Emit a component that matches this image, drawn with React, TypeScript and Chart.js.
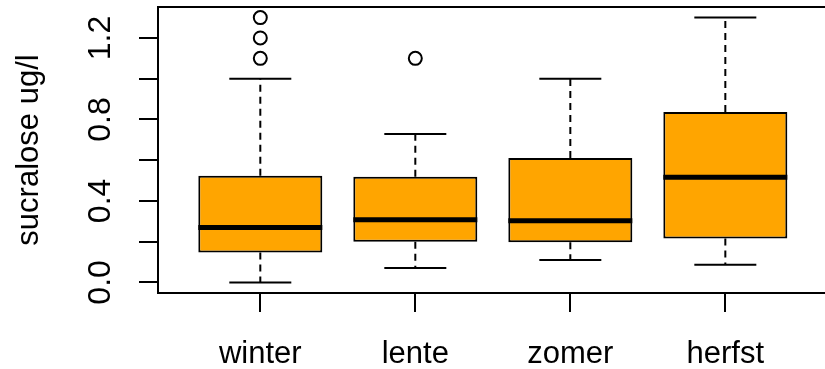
import React, { useEffect, useRef } from 'react';
import { Chart, registerables } from 'chart.js';

Chart.register(...registerables);

// ---- data ----
const categories = ['winter', 'lente', 'zomer', 'herfst'];
const categoryPositions = [1, 2, 3, 4];
const q1Values = [0.147, 0.2, 0.197, 0.215];
const medianValues = [0.27, 0.307, 0.303, 0.516];
const q3Values = [0.524, 0.519, 0.611, 0.837];
const whiskerLowValues = [0.0, 0.071, 0.11, 0.087];
const whiskerHighValues = [1.0, 0.729, 1.0, 1.3];
const outlierPositions = [1, 1, 1, 2];
const outlierValues = [1.1, 1.2, 1.3, 1.1];
const yTickValues = [0, 0.2, 0.4, 0.6, 0.8, 1.0, 1.2];
const yTickLabels = ['0.0', '', '0.4', '', '0.8', '', '1.2'];
const yAxisTitle = 'sucralose ug/l';

const FONT = '"Liberation Sans", Arial, sans-serif';

function zeroPadding(s: any) {
  s.paddingTop = 0;
  s.paddingBottom = 0;
  s.paddingLeft = 0;
  s.paddingRight = 0;
}

export default function App() {
  const ref = useRef<HTMLCanvasElement>(null);

  useEffect(() => {
    document.body.style.margin = '0';
    document.documentElement.style.overflow = 'hidden';
    Chart.defaults.font.family = FONT;
    Chart.defaults.color = '#000';

    const boxPlugin = {
      id: 'boxWhiskers',
      afterDatasetsDraw(chart: any) {
        const ctx = chart.ctx;
        const xs = chart.scales.x;
        const ys = chart.scales.y;
        const meta = chart.getDatasetMeta(0);
        ctx.save();
        ctx.strokeStyle = '#000';
        categoryPositions.forEach((pos, i) => {
          const x = xs.getPixelForValue(pos);
          const el = meta.data[i];
          const bw = el ? el.width : 124;
          const capHalf = bw / 4;
          ctx.lineWidth = 2;
          ctx.setLineDash([7, 5]);
          ctx.beginPath();
          ctx.moveTo(x, ys.getPixelForValue(q3Values[i]));
          ctx.lineTo(x, ys.getPixelForValue(whiskerHighValues[i]));
          ctx.moveTo(x, ys.getPixelForValue(q1Values[i]));
          ctx.lineTo(x, ys.getPixelForValue(whiskerLowValues[i]));
          ctx.stroke();
          ctx.setLineDash([]);
          ctx.beginPath();
          const yh = ys.getPixelForValue(whiskerHighValues[i]);
          const yl = ys.getPixelForValue(whiskerLowValues[i]);
          ctx.moveTo(x - capHalf, yh);
          ctx.lineTo(x + capHalf, yh);
          ctx.moveTo(x - capHalf, yl);
          ctx.lineTo(x + capHalf, yl);
          ctx.stroke();
          ctx.lineWidth = 5;
          ctx.lineCap = 'butt';
          ctx.beginPath();
          const ym = ys.getPixelForValue(medianValues[i]);
          ctx.moveTo(x - bw / 2, ym);
          ctx.lineTo(x + bw / 2, ym);
          ctx.stroke();
        });
        ctx.restore();
      },
      afterDraw(chart: any) {
        const { left, top, bottom } = chart.chartArea;
        const xs = chart.scales.x;
        // frame right edge lies just past the canvas edge, as in the reference
        const right = xs.getPixelForValue(xs.max) + 3;
        const ctx = chart.ctx;
        ctx.save();
        ctx.strokeStyle = '#000';
        ctx.lineWidth = 2;
        ctx.strokeRect(left, top, right - left, bottom - top);
        ctx.restore();
      },
    };

    const chart = new Chart(ref.current!, {
      type: 'scatter',
      data: {
        datasets: [
          {
            type: 'bar',
            data: categoryPositions.map((x, i) => ({ x, y: [q1Values[i], q3Values[i]] })) as any,
            backgroundColor: '#FFA500',
            borderColor: '#000',
            borderWidth: 2,
            borderSkipped: false,
            barPercentage: 0.8,
            categoryPercentage: 1.0,
            order: 2,
          } as any,
          {
            type: 'scatter',
            data: outlierPositions.map((x, i) => ({ x, y: outlierValues[i] })),
            pointStyle: 'circle',
            pointRadius: 6.5,
            pointBorderWidth: 2,
            pointBackgroundColor: 'rgba(0,0,0,0)',
            pointBorderColor: '#000',
            order: 1,
          } as any,
        ],
      },
      options: {
        animation: false,
        responsive: false,
        layout: { autoPadding: false, padding: { top: 7, right: 0, bottom: 0, left: 0 } },
        plugins: { legend: { display: false }, tooltip: { enabled: false } },
        scales: {
          x: {
            type: 'linear',
            min: 0.34,
            max: 4.643,
            offset: false,
            grid: { offset: false, drawOnChartArea: false, drawTicks: true, tickLength: 19, color: '#000', lineWidth: 2 },
            border: { display: false },
            ticks: {
              autoSkip: false,
              minRotation: 0,
              maxRotation: 0,
              padding: 24,
              color: '#000',
              font: { size: 31, family: FONT },
              callback: (_v: any, i: number) => categories[i],
            },
            afterBuildTicks: (s: any) => {
              s.ticks = categoryPositions.map((v) => ({ value: v }));
            },
            afterFit: (s: any) => {
              s.height = 76;
              zeroPadding(s);
            },
          },
          y: {
            type: 'linear',
            min: -0.052,
            max: 1.352,
            grid: { drawOnChartArea: false, drawTicks: true, tickLength: 19, color: '#000', lineWidth: 2 },
            border: { display: false },
            ticks: {
              autoSkip: false,
              minRotation: 90,
              maxRotation: 90,
              crossAlign: 'center',
              padding: 16,
              color: '#000',
              font: { size: 32, family: FONT },
              callback: (_v: any, i: number) => yTickLabels[i],
            },
            afterBuildTicks: (s: any) => {
              s.ticks = yTickValues.map((v) => ({ value: v }));
            },
            afterFit: (s: any) => {
              s.width = 158;
              zeroPadding(s);
            },
            title: {
              display: true,
              text: yAxisTitle,
              color: '#000',
              font: { size: 31, family: FONT },
              padding: { top: 11, bottom: 4 },
            },
          },
        },
      } as any,
      plugins: [boxPlugin],
    });
    return () => chart.destroy();
  }, []);

  return (
    <div style={{ position: 'fixed', left: 0, top: 0, width: 825, height: 369, background: '#fff', overflow: 'hidden' }}>
      <canvas ref={ref} width={825} height={369} style={{ display: 'block' }} />
    </div>
  );
}
